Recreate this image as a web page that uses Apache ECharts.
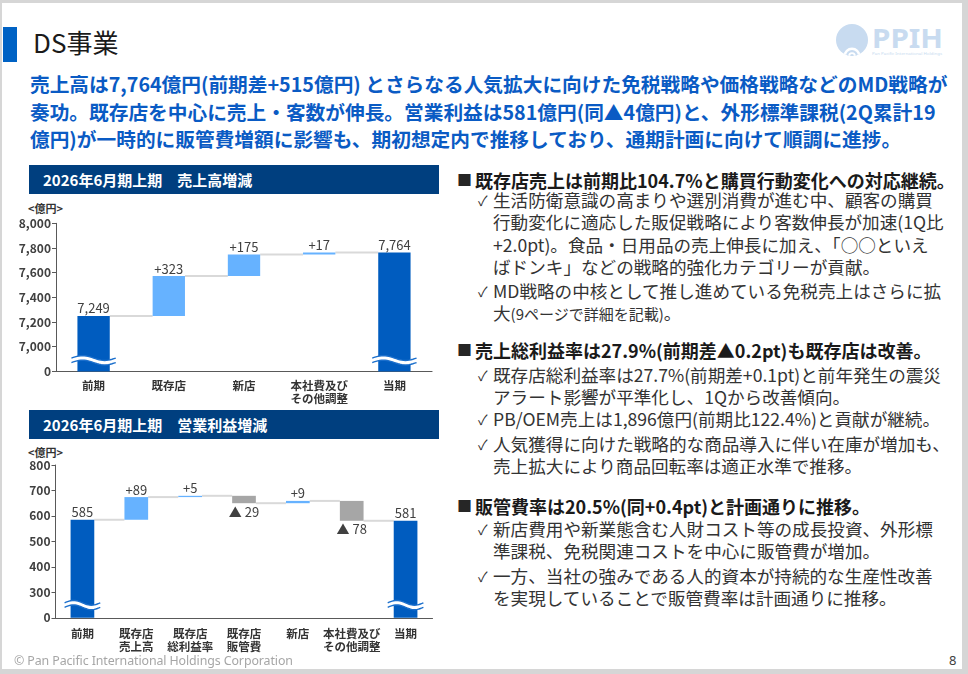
<!DOCTYPE html>
<html>
<head>
<meta charset="utf-8">
<script src="https://cdn.jsdelivr.net/npm/echarts@6/dist/echarts.min.js"></script>
<style>
html,body{margin:0;padding:0;width:968px;height:674px;overflow:hidden;background:#d6d6d6;font-family:"Noto Sans CJK JP","Noto Sans",sans-serif;}
#slide{position:absolute;left:2px;top:3px;width:960px;height:666px;background:#fff;}
.abs{position:absolute;white-space:nowrap;}
#bar{left:3px;top:27px;width:14px;height:35px;background:#0062c4;}
#title{left:33px;top:26px;font-size:26px;line-height:32px;color:#1a1a1a;}
#headline{left:30px;top:70px;font-size:19.7px;line-height:27.5px;font-weight:700;color:#0a5bc4;}
.panel{left:29px;width:410px;height:29px;background:#003f7f;color:#fff;font-weight:700;font-size:15px;line-height:29px;padding-left:14px;box-sizing:border-box;}
.unit{font-size:11px;font-weight:700;color:#333;line-height:13px;}
.sq{left:457px;font-size:15px;color:#262626;line-height:22px;}
.h{left:475px;font-size:18px;font-weight:700;color:#1a1a1a;line-height:22px;}
.ck{left:478px;font-size:14px;color:#333;line-height:22px;}
.b{left:493px;font-size:17.6px;color:#333;line-height:22.3px;}
.small{font-size:15px;}
#footer{left:14px;top:652px;font-size:12.4px;line-height:18px;color:#a6a6a6;font-family:"Noto Sans","Open Sans",sans-serif;letter-spacing:-0.1px;}
#page{left:949px;top:651px;font-size:13px;line-height:18px;color:#404040;font-family:"Noto Sans",sans-serif;}
#c1{position:absolute;left:0;top:190px;width:450px;height:225px;}
#c2{position:absolute;left:0;top:440px;width:450px;height:229px;}
#logo{left:835px;top:22px;}
</style>
</head>
<body>
<div id="slide"></div>
<div id="bar" class="abs"></div>
<div id="title" class="abs">DS事業</div>
<svg id="logo" class="abs" width="115" height="38" viewBox="0 0 115 38">
  <defs><clipPath id="cc"><circle cx="17" cy="18" r="16"/></clipPath></defs>
  <circle cx="17" cy="18" r="16" fill="#c8dbf0"/>
  <g clip-path="url(#cc)">
    <circle cx="17" cy="34" r="8.5" fill="#fff"/>
    <circle cx="17" cy="34" r="6" fill="#c8dbf0"/>
    <circle cx="17" cy="34" r="3.8" fill="#fff"/>
    <circle cx="17" cy="34" r="1.9" fill="#c8dbf0"/>
  </g>
  <text x="37" y="26" font-family="Noto Sans, sans-serif" font-weight="700" font-size="26" fill="#c8dbf0" textLength="71" lengthAdjust="spacingAndGlyphs">PPIH</text>
  <text x="37" y="33" font-family="Noto Sans, sans-serif" font-size="4" fill="#c8dbf0" textLength="70" lengthAdjust="spacingAndGlyphs">Pan Pacific International Holdings</text>
</svg>
<div id="headline" class="abs">売上高は7,764億円(前期差+515億円) とさらなる人気拡大に向けた免税戦略や価格戦略などのMD戦略が<br>奏功。既存店を中心に売上・客数が伸長。営業利益は581億円(同▲4億円)と、外形標準課税(2Q累計19<br>億円)が一時的に販管費増額に影響も、期初想定内で推移しており、通期計画に向けて順調に進捗。</div>

<div class="abs panel" style="top:165px;">2026年6月期上期　売上高増減</div>
<div class="abs panel" style="top:410px;">2026年6月期上期　営業利益増減</div>
<div class="abs unit" style="left:28px;top:202px;">&lt;億円&gt;</div>
<div class="abs unit" style="left:28px;top:446px;">&lt;億円&gt;</div>

<div id="c1"></div>
<div id="c2"></div>

<div class="abs sq" style="top:169px;">■</div>
<div class="abs h" style="top:169px;">既存店売上は前期比104.7%と購買行動変化への対応継続。</div>
<div class="abs ck" style="top:189px;">✓</div>
<div class="abs b" style="top:189px;">生活防衛意識の高まりや選別消費が進む中、顧客の購買<br>行動変化に適応した販促戦略により客数伸長が加速(1Q比<br>+2.0pt)。食品・日用品の売上伸長に加え、「○○といえ<br>ばドンキ」などの戦略的強化カテゴリーが貢献。</div>
<div class="abs ck" style="top:279.5px;">✓</div>
<div class="abs b" style="top:279.5px;">MD戦略の中核として推し進めている免税売上はさらに拡<br>大<span class="small">(9ページで詳細を記載)</span>。</div>

<div class="abs sq" style="top:339px;">■</div>
<div class="abs h" style="top:339px;">売上総利益率は27.9%(前期差▲0.2pt)も既存店は改善。</div>
<div class="abs ck" style="top:364px;">✓</div>
<div class="abs b" style="top:364px;">既存店総利益率は27.7%(前期差+0.1pt)と前年発生の震災<br>アラート影響が平準化し、1Qから改善傾向。</div>
<div class="abs ck" style="top:408px;">✓</div>
<div class="abs b" style="top:408px;">PB/OEM売上は1,896億円(前期比122.4%)と貢献が継続。</div>
<div class="abs ck" style="top:433px;">✓</div>
<div class="abs b" style="top:433px;">人気獲得に向けた戦略的な商品導入に伴い在庫が増加も、<br>売上拡大により商品回転率は適正水準で推移。</div>

<div class="abs sq" style="top:495px;">■</div>
<div class="abs h" style="top:495px;">販管費率は20.5%(同+0.4pt)と計画通りに推移。</div>
<div class="abs ck" style="top:518px;">✓</div>
<div class="abs b" style="top:518px;">新店費用や新業態含む人財コスト等の成長投資、外形標<br>準課税、免税関連コストを中心に販管費が増加。</div>
<div class="abs ck" style="top:565px;">✓</div>
<div class="abs b" style="top:565px;">一方、当社の強みである人的資本が持続的な生産性改善<br>を実現していることで販管費率は計画通りに推移。</div>

<div id="footer" class="abs">© Pan Pacific International Holdings Corporation</div>
<div id="page" class="abs">8</div>

<script>
// ---- Data: 売上高増減 ----
const salesCategories = ['前期', '既存店', '新店', '本社費及び\nその他調整', '当期'];
const salesPrev = 7249;
const salesChanges = [323, 175, 17];
const salesCurr = 7764;
const salesTicks = [6800, 7000, 7200, 7400, 7600, 7800, 8000];
const salesTickLabels = ['0', '7,000', '7,200', '7,400', '7,600', '7,800', '8,000'];

// ---- Data: 営業利益増減 ----
const profitCategories = ['前期', '既存店\n売上高', '既存店\n総利益率', '既存店\n販管費', '新店', '本社費及び\nその他調整', '当期'];
const profitPrev = 585;
const profitChanges = [89, 5, -29, 9, -78];
const profitCurr = 581;
const profitTicks = [200, 300, 400, 500, 600, 700, 800];
const profitTickLabels = ['0', '300', '400', '500', '600', '700', '800'];

const FONT = '"Noto Sans CJK JP", "Noto Sans", sans-serif';
const C_TOTAL = '#005cbf', C_UP = '#66b2ff', C_DOWN = '#a6a6a6';

function buildWaterfall(prev, changes, curr) {
  const n = changes.length + 2;
  const base = [], up = [], down = [], total = [], levels = [];
  let cum = prev;
  base.push('-'); up.push('-'); down.push('-'); total.push(prev); levels.push(prev);
  changes.forEach(d => {
    total.push('-');
    if (d >= 0) { base.push(cum); up.push(d); down.push('-'); cum += d; }
    else { cum += d; base.push(cum); down.push(-d); up.push('-'); }
    levels.push(cum);
  });
  base.push('-'); up.push('-'); down.push('-'); total.push(curr);
  return { n, base, up, down, total, levels };
}

function makeOption(cfg) {
  const wf = buildWaterfall(cfg.prev, cfg.changes, cfg.curr);
  const ratio = cfg.barRatio;
  const lbl = { color: '#404040', fontSize: 13, fontFamily: FONT };
  return {
    animation: false,
    textStyle: { fontFamily: FONT },
    grid: cfg.grid,
    xAxis: {
      type: 'category', data: cfg.categories,
      axisLine: { show: true, onZero: false, lineStyle: { color: '#595959', width: 1.2 } },
      axisTick: { show: false },
      axisLabel: { interval: 0, color: '#333', fontWeight: 'bold', fontSize: 11.5, lineHeight: 13, margin: cfg.xMargin, fontFamily: FONT }
    },
    yAxis: {
      type: 'value', min: cfg.ticks[0], max: cfg.ticks[cfg.ticks.length - 1], interval: cfg.ticks[1] - cfg.ticks[0],
      axisLine: { show: true, lineStyle: { color: '#595959', width: 1 } },
      axisTick: { show: true, length: 4, lineStyle: { color: '#595959' } },
      splitLine: { show: false },
      axisLabel: {
        color: '#404040', fontWeight: 'bold', fontSize: 12, margin: 5, fontFamily: FONT,
        formatter: v => { const i = cfg.ticks.indexOf(v); return i >= 0 ? cfg.tickLabels[i] : ''; }
      }
    },
    series: [
      {
        type: 'custom', silent: true, z: 1,
        renderItem: (params, api) => {
          const i = api.value(0), lv = api.value(1);
          const p1 = api.coord([i, lv]), p2 = api.coord([i + 1, lv]);
          const half = api.size([1, 0])[0] * ratio / 2;
          return { type: 'line', shape: { x1: p1[0] + half, y1: p1[1], x2: p2[0] - half, y2: p2[1] },
                   style: { stroke: '#d9d9d9', lineWidth: 2 } };
        },
        data: wf.levels.map((v, i) => [i, v])
      },
      { type: 'bar', stack: 'wf', barWidth: (ratio * 100) + '%', data: wf.base, silent: true,
        itemStyle: { color: 'rgba(0,0,0,0)' }, z: 2 },
      { type: 'bar', stack: 'wf', barWidth: (ratio * 100) + '%', data: wf.up, z: 3,
        itemStyle: { color: C_UP },
        label: Object.assign({ show: true, position: 'top', distance: 1, formatter: p => '+' + p.value }, lbl) },
      { type: 'bar', stack: 'wf', barWidth: (ratio * 100) + '%', data: wf.down, z: 3,
        itemStyle: { color: C_DOWN },
        label: Object.assign({ show: true, position: 'bottom', distance: 2, formatter: p => '▲ ' + p.value }, lbl) },
      { type: 'bar', stack: 'wf', barWidth: (ratio * 100) + '%', data: wf.total, z: 3,
        itemStyle: { color: C_TOTAL },
        label: Object.assign({ show: true, position: 'top', distance: 1, formatter: p => Number(p.value).toLocaleString('en-US') }, lbl) },
      {
        type: 'custom', silent: true, z: 10,
        renderItem: (params, api) => {
          const c = api.coord([api.value(0), api.value(1)]);
          const w = api.size([1, 0])[0] * ratio + 12;
          const x0 = c[0] - w / 2, amp = 2.4, gap = 4.5;
          const top = [], bot = [];
          for (let s = 0; s <= 24; s++) {
            const t = s / 24, x = x0 + w * t;
            const y = c[1] - gap / 2 - amp * Math.sin(2 * Math.PI * t);
            top.push([x, y]); bot.push([x, y + gap]);
          }
          return { type: 'group', children: [
            { type: 'polygon', shape: { points: top.concat(bot.slice().reverse()) }, style: { fill: '#fff' } },
            { type: 'polyline', shape: { points: top }, style: { stroke: '#1b6fcc', lineWidth: 1.4, fill: null } },
            { type: 'polyline', shape: { points: bot }, style: { stroke: '#1b6fcc', lineWidth: 1.4, fill: null } }
          ]};
        },
        data: [[0, cfg.breakValue], [wf.n - 1, cfg.breakValue]]
      }
    ]
  };
}

const chart1 = echarts.init(document.getElementById('c1'), null, { renderer: 'canvas' });
chart1.setOption(makeOption({
  categories: salesCategories, prev: salesPrev, changes: salesChanges, curr: salesCurr,
  ticks: salesTicks, tickLabels: salesTickLabels,
  grid: { left: 56, top: 33.3, width: 376, height: 148.1 },
  barRatio: 0.43, breakValue: 6890, xMargin: 8
}));

const chart2 = echarts.init(document.getElementById('c2'), null, { renderer: 'canvas' });
chart2.setOption(makeOption({
  categories: profitCategories, prev: profitPrev, changes: profitChanges, curr: profitCurr,
  ticks: profitTicks, tickLabels: profitTickLabels,
  grid: { left: 55.5, top: 25, width: 377, height: 152.8 },
  barRatio: 0.44, breakValue: 250, xMargin: 9
}));
</script>
</body>
</html>
